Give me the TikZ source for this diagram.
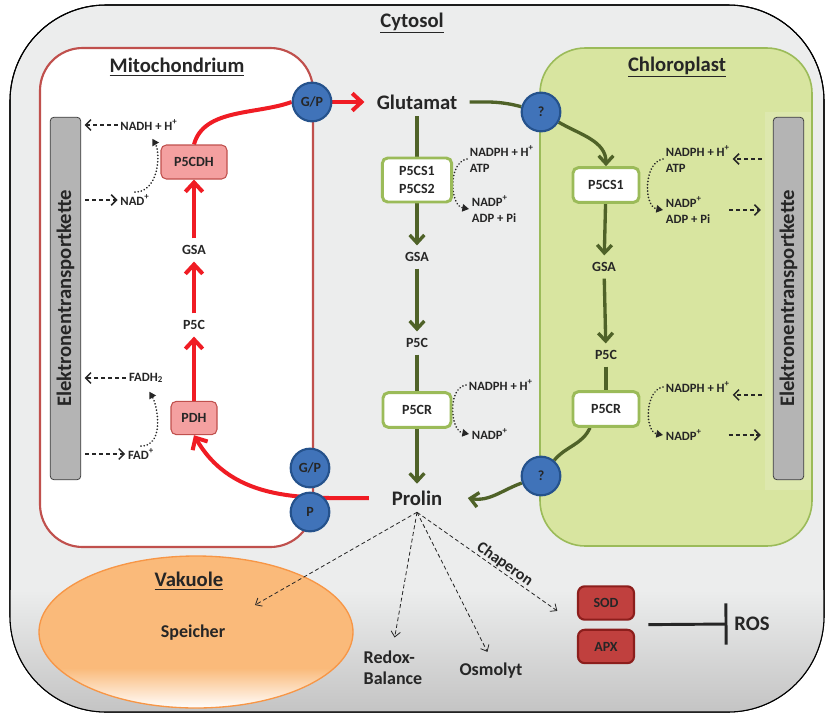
\documentclass[tikz,border=0pt]{standalone}
\usepackage{fontspec}
\setmainfont{Carlito}
\usetikzlibrary{arrows.meta, positioning, calc, shapes.geometric}
\definecolor{cytgray}{RGB}{236,237,237}
\definecolor{cytdark}{RGB}{196,196,196}
\definecolor{mitored}{RGB}{192,80,77}
\definecolor{pinkbox}{RGB}{244,160,160}
\definecolor{chlfill}{RGB}{216,229,160}
\definecolor{chlborder}{RGB}{155,187,89}
\definecolor{darkgreen}{RGB}{79,98,40}
\definecolor{circblue}{RGB}{64,115,185}
\definecolor{circborder}{RGB}{37,82,140}
\definecolor{arrowred}{RGB}{240,28,36}
\definecolor{soddark}{RGB}{192,64,62}
\definecolor{sodborder}{RGB}{140,30,28}
\definecolor{vakfill}{RGB}{250,186,122}
\definecolor{vakborder}{RGB}{247,150,70}
\definecolor{bargray}{RGB}{180,180,180}
\definecolor{barborder}{RGB}{64,64,64}
\definecolor{txtdark}{RGB}{38,38,38}
\pgfdeclarelayer{bg}
\pgfdeclarelayer{links}
\pgfsetlayers{bg,links,main}

\begin{document}
\begin{tikzpicture}[
    x=0.75pt, y=-0.75pt,
    every node/.style={text=txtdark},
    title/.style={font=\fontsize{15.5}{18}\selectfont\bfseries},
    metab/.style={font=\fontsize{15.5}{18}\selectfont\bfseries, inner sep=5pt},
    inter/.style={font=\fontsize{10.5}{12}\selectfont\bfseries, inner sep=5pt},
    effectlbl/.style={font=\fontsize{13.5}{16}\selectfont\bfseries, align=left, inner sep=3pt},
    cof/.style={font=\fontsize{9.5}{12}\selectfont\bfseries, align=left, inner sep=2pt},
    enzg/.style={rectangle, rounded corners=4pt, draw=chlborder, line width=2.2pt, fill=white, align=center, font=\fontsize{10.5}{13.5}\selectfont\bfseries},
    enzr/.style={rectangle, rounded corners=4pt, draw=mitored, line width=0.8pt, fill=pinkbox, font=\fontsize{10.5}{13}\selectfont\bfseries},
    enzd/.style={rectangle, rounded corners=5pt, draw=sodborder, line width=1.6pt, fill=soddark, minimum width=42pt, minimum height=25pt, font=\fontsize{10.5}{13}\selectfont\bfseries},
    transp/.style={circle, draw=circborder, line width=1.6pt, fill=circblue, minimum size=29pt, inner sep=0pt, font=\fontsize{10.5}{12}\selectfont\bfseries},
    etcbar/.style={rectangle, rounded corners=3pt, draw=barborder, line width=0.6pt, fill=bargray, minimum width=23pt, minimum height=272pt},
    etclbl/.style={font=\fontsize{15.5}{18}\selectfont\bfseries},
    greenline/.style={draw=darkgreen, line width=2.5pt},
    greenarrow/.style={greenline, -{Straight Barb[length=6pt, width=11pt]}},
    redline/.style={draw=arrowred, line width=3pt},
    redarrow/.style={redline, -{Straight Barb[length=7pt, width=13pt]}},
    dasharrow/.style={draw=txtdark, line width=1.1pt, dash pattern=on 3pt off 2.2pt, -{Straight Barb[length=4pt, width=8pt]}},
    dotarrow/.style={draw=txtdark, line width=1.4pt, dash pattern=on 0.01pt off 2.4pt, line cap=round, -{Triangle[length=5pt, width=5.5pt]}},
    effect/.style={draw=txtdark, line width=0.6pt, dash pattern=on 3pt off 2pt, -{Straight Barb[length=4pt, width=7pt]}},
    inhib/.style={draw=txtdark, line width=2.2pt, -{Bar[width=31pt]}}
]
\useasboundingbox (0,0) rectangle (827,717);

% Kompartimente
\begin{pgfonlayer}{bg}
  \filldraw[draw=black, line width=0.8pt, fill=cytgray, rounded corners=72pt] (10,5) rectangle (824,712);
  \begin{scope}
    \clip[rounded corners=72pt] (10,5) rectangle (824,712);
    \shade[top color=cytgray, bottom color=cytdark] (10,590) rectangle (824,712);
  \end{scope}
  \draw[line width=0.8pt, rounded corners=72pt] (10,5) rectangle (824,712);
  \filldraw[draw=mitored, line width=1.6pt, fill=white, rounded corners=32pt] (40,48) rectangle (313,547);
  \filldraw[draw=chlborder, line width=1.2pt, fill=chlfill, rounded corners=34pt] (540,48) rectangle (812,546);
  \fill[white, opacity=0.15] (765,112) rectangle (811,490);
  % Vakuole
  \fill[vakfill] (196,632) ellipse [x radius=157, y radius=76];
  \begin{scope}
    \clip (196,632) ellipse [x radius=157, y radius=76];
    \shade[top color=vakfill, bottom color=white] (39,668) rectangle (353,709);
  \end{scope}
  \node[ellipse, draw=vakborder, line width=1pt, minimum width=235.5pt, minimum height=114pt, inner sep=0pt] (vak) at (196,632) {};
\end{pgfonlayer}

\node[title] (cyt) at (412,23) {\underline{Cytosol}};
\node[title] (mitot) at (177,67) {\underline{Mitochondrium}};
\node[title] (chlt) at (677,67) {\underline{Chloroplast}};
\node[title] (vakt) at (189,581) {\underline{Vakuole}};

% Elektronentransportketten
\node[etcbar] (etcL) at (65.5,298.5) {};
\node[etclbl, rotate=90] at (etcL) {Elektronentransportkette};
\node[etcbar] (etcR) at (788.5,298.5) {};
\node[etclbl, rotate=90] at (etcR) {Elektronentransportkette};

% Mitochondrium
\node[enzr, minimum width=49.5pt, minimum height=25.5pt] (p5cdh) at (194,162) {P5CDH};
\node[inter] (mgsa) at (194,250) {GSA};
\node[inter] (mp5c) at (194,325) {P5C};
\node[enzr, minimum width=34.5pt, minimum height=25pt] (pdh) at (194,418) {PDH};
\node[cof] (nadh) at (149,125) {NADH + H\textsuperscript{+}};
\node[cof] (nad) at (135,200) {NAD\textsuperscript{+}};
\node[cof] (fadh) at (146,378) {FADH\textsubscript{2}};
\node[cof] (fad) at (141,454) {FAD\textsuperscript{+}};

% Cytosol
\node[metab] (glu) at (417,102) {Glutamat};
\node[enzg, minimum width=52pt, minimum height=33pt] (p5cs) at (417,180) {P5CS1\\P5CS2};
\node[inter] (cgsa) at (417,257) {GSA};
\node[inter] (cp5c) at (417,343) {P5C};
\node[enzg, minimum width=51pt, minimum height=26pt] (p5cr) at (417,410) {P5CR};
\node[metab] (pro) at (417,498) {Prolin};
\node[cof, anchor=west] (cofA) at (467,159) {NADPH + H\textsuperscript{+}\\ATP};
\node[cof, anchor=west] (cofB) at (469,209) {NADP\textsuperscript{+}\\ADP + Pi};
\node[cof, anchor=west] (cofC) at (466,385) {NADPH + H\textsuperscript{+}};
\node[cof, anchor=west] (cofD) at (469,434) {NADP\textsuperscript{+}};

% Chloroplast
\node[enzg, minimum width=49.5pt, minimum height=26pt] (kp5cs) at (606,185) {P5CS1};
\node[inter] (kgsa) at (604,267) {GSA};
\node[inter] (kp5c) at (606,355) {P5C};
\node[enzg, minimum width=49.5pt, minimum height=26pt] (kp5cr) at (606,409) {P5CR};
\node[cof, anchor=west] (cofE) at (663,159) {NADPH + H\textsuperscript{+}\\ATP};
\node[cof, anchor=west] (cofF) at (663,210) {NADP\textsuperscript{+}\\ADP + Pi};
\node[cof, anchor=west] (cofG) at (663,387) {NADPH + H\textsuperscript{+}};
\node[cof, anchor=west] (cofH) at (663,435) {NADP\textsuperscript{+}};

% Transporter
\node[transp] (gp1) at (312,102) {G/P};
\node[transp] (q1) at (541,112) {?};
\node[transp] (gp2) at (310,468) {G/P};
\node[transp] (pc) at (310,512) {P};
\node[transp] (q2) at (541,476) {?};

% Vakuole und Wirkungen
\node[effectlbl] (spei) at (193,633) {Speicher};
\node[effectlbl] (redox) at (393,668) {Redox-\\Balance};
\node[effectlbl] (osmo) at (491,671) {Osmolyt};
\node[enzd] (sod) at (606,603) {SOD};
\node[enzd, below=6pt of sod] (apx) {APX};
\node[metab, inner sep=3pt] (ros) at (752,624) {ROS};
\coordinate (vakin) at (255,605);

\begin{pgfonlayer}{links}
% Abbau im Mitochondrium
\draw[redarrow] (mgsa) -- (p5cdh);
\draw[redarrow] (mp5c) -- (mgsa);
\draw[redarrow] (pdh) -- (mp5c);
\draw[redline] (p5cdh.north) to[out=75,in=200,looseness=0.9] (gp1.west);
\draw[redarrow, shorten >=4pt] (gp1.east) -- (glu.west);
\draw[redarrow, shorten <=12pt] (pro.west) to[out=180,in=-60] (pdh.south);

% Synthese im Cytosol
\draw[greenline] (glu) -- (p5cs);
\draw[greenarrow] (p5cs) -- (cgsa);
\draw[greenarrow] (cgsa) -- (cp5c);
\draw[greenline] (cp5c) -- (p5cr);
\draw[greenarrow] (p5cr) -- (pro);

% Synthese im Chloroplast
\draw[greenline, shorten <=4pt] (glu.east) to[out=0,in=165] (q1);
\draw[greenarrow] (q1) to[out=-30,in=90] (kp5cs);
\draw[greenarrow] (kp5cs) -- (kgsa);
\draw[greenarrow] (kgsa) -- (kp5c);
\draw[greenline] (kp5c) -- (kp5cr);
\draw[greenline] ($(kp5cr.south)+(-16,0)$) to[out=-115,in=50] (q2);
\draw[greenarrow] (q2) to[out=200,in=-10] ([xshift=14pt]pro.east);

% Cofaktoren
\draw[dotarrow, shorten >=5pt] (nad.north) to[out=0,in=-60] (nadh.south);
\draw[dotarrow, shorten >=5pt] (fad.north) to[out=0,in=-60] (fadh.south);
\draw[dotarrow] (cofA.west) to[out=190,in=170] (cofB.west);
\draw[dotarrow] (cofC.west) to[out=190,in=170] (cofD.west);
\draw[dotarrow] (cofE.west) to[out=190,in=170] (cofF.west);
\draw[dotarrow] (cofG.west) to[out=190,in=170] (cofH.west);
\draw[dasharrow, shorten >=2.5pt] (nadh.west) -- (nadh.west -| etcL.east);
\draw[dasharrow, shorten <=3pt] (nad.west -| etcL.east) -- (nad.west);
\draw[dasharrow, shorten >=2.5pt] (fadh.west) -- (fadh.west -| etcL.east);
\draw[dasharrow, shorten <=3pt] (fad.west -| etcL.east) -- (fad.west);
\draw[dasharrow, shorten <=8pt] (cofE.east -| etcR.west) -- (cofE.east);
\draw[dasharrow, shorten <=12pt, shorten >=9pt] (cofF.east) -- (cofF.east -| etcR.west);
\draw[dasharrow, shorten <=8pt] (cofG.south east -| etcR.west) -- (cofG.south east);
\draw[dasharrow, shorten <=18pt, shorten >=9pt] (cofH.east) -- (cofH.east -| etcR.west);

% Funktionen von Prolin
\draw[effect] (pro.south) -- (vakin);
\draw[effect, shorten >=7pt] (pro.south) -- (redox.north);
\draw[effect, shorten >=6pt] (pro.south) -- (osmo.north);
\draw[effect, shorten >=18pt] (pro.south) -- node[pos=0.52, sloped, above, inner sep=0.5pt, font=\fontsize{12}{14}\selectfont\bfseries] (chap) {Chaperon} ($(sod.south west)!0.5!(apx.north west)$);
\draw[inhib, shorten <=10pt, shorten >=2pt] ($(sod.south east)!0.5!(apx.north east)$) -- (ros.west);
\end{pgfonlayer}

\end{tikzpicture}
\end{document}
